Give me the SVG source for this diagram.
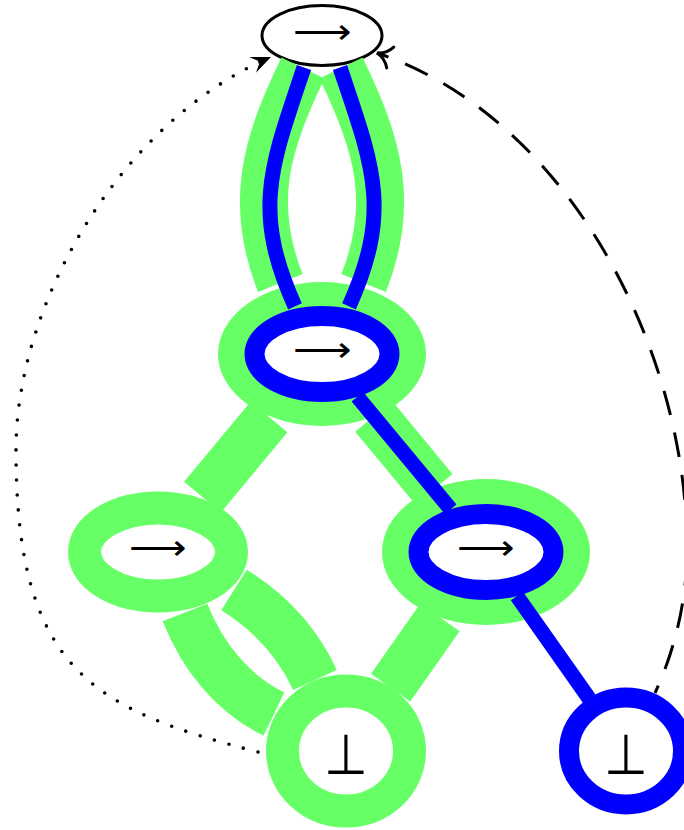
<svg xmlns="http://www.w3.org/2000/svg" width="684" height="830" viewBox="0 0 684 830">
<style>
.lbl{font-family:"DejaVu Sans",sans-serif;font-weight:200;font-size:36px;fill:#000;text-anchor:middle}
.bot{font-family:"DejaVu Sans",sans-serif;font-weight:200;font-size:56px;fill:#000;text-anchor:middle}
.gfill{fill:#66ff66;stroke:none}
.gring{fill:#fff;stroke:#66ff66;stroke-width:33}
.bring{fill:#fff;stroke:#0000ff;stroke-width:20}
.gband{fill:none;stroke:#66ff66;stroke-width:48;stroke-linecap:butt}
.bband{fill:none;stroke:#0000ff;stroke-width:15;stroke-linecap:butt}
.dot{fill:none;stroke:#000;stroke-width:3.6;stroke-linecap:round;stroke-dasharray:0 15}
.dash{fill:none;stroke:#000;stroke-width:3;stroke-dasharray:25 18;stroke-dashoffset:17}
</style>
<defs>
<marker id="stealth" viewBox="-22 -10 24 20" refX="0" refY="0" markerWidth="24" markerHeight="20" markerUnits="userSpaceOnUse" orient="auto">
<path d="M0,0 L-20,-8.5 L-12,0 L-20,8.5 Z" fill="#000" stroke="none"/>
</marker>
<marker id="open" viewBox="-17 -13 20 26" refX="0" refY="0" markerWidth="20" markerHeight="26" markerUnits="userSpaceOnUse" orient="auto">
<path d="M-14,-11 C-10,-4 -4,-1 0,0 C-4,1 -10,4 -14,11" fill="none" stroke="#000" stroke-width="3" stroke-linecap="round"/>
</marker>
</defs>
<g id="n_top">
<ellipse cx="322" cy="35.5" rx="60" ry="30" fill="#fff" stroke="#000" stroke-width="3"/>
<text class="lbl" x="322.5" y="43.5" textLength="59" lengthAdjust="spacingAndGlyphs">⟶</text>
</g>
<g id="n_mid">
<ellipse class="gfill" cx="322" cy="354" rx="104" ry="72"/>
<ellipse class="bring" cx="322" cy="354" rx="67.5" ry="38"/>
<text class="lbl" x="322.5" y="361.5" textLength="59" lengthAdjust="spacingAndGlyphs">⟶</text>
</g>
<g id="n_left">
<ellipse class="gring" cx="158" cy="552" rx="73.5" ry="44"/>
<text class="lbl" x="158.3" y="560" textLength="58" lengthAdjust="spacingAndGlyphs">⟶</text>
</g>
<g id="n_right">
<ellipse class="gfill" cx="486" cy="552" rx="104" ry="73"/>
<ellipse class="bring" cx="486" cy="552" rx="67.5" ry="38"/>
<text class="lbl" x="485.9" y="559.5" textLength="58" lengthAdjust="spacingAndGlyphs">⟶</text>
</g>
<g id="n_bl">
<ellipse class="gring" cx="346" cy="751" rx="63.5" ry="60"/>
<text class="bot" x="346" y="773.5" textLength="44" lengthAdjust="spacingAndGlyphs">⊥</text>
</g>
<g id="n_br">
<ellipse class="bring" cx="626" cy="751" rx="57" ry="53.5"/>
<text class="bot" x="626" y="773.5" textLength="44" lengthAdjust="spacingAndGlyphs">⊥</text>
</g>
<g id="connectors">
<path class="gband" d="M303,68 C265.6,144.5 248.9,204 280.4,283"/>
<path class="gband" d="M341,68 C378.4,144.5 395.1,204 363.6,283"/>
<path class="gband" d="M269,417 L202.5,497"/>
<path class="gband" d="M373.7,416.4 L434,489.2"/>
<path class="gband" d="M185,612.5 C202.1,655.8 232.1,693.8 274,714"/>
<path class="gband" d="M234,590 C268.9,611.8 297.8,642.6 315,680"/>
<path class="gband" d="M440,617.4 L390.6,687.6"/>
<path class="bband" d="M304,67.5 C270.4,167.3 252,210.8 295,306.3"/>
<path class="bband" d="M340,67.5 C373.6,167.3 392,210.8 349,306.3"/>
<path class="bband" d="M357.4,396.7 L450.7,509.3"/>
<path class="bband" d="M516.9,596 L589.2,698.6"/>
<path class="dot" d="M258,752 C93,709.5 16,670 16,450 C16,300 123.8,119.4 271,57" marker-end="url(#stealth)"/>
<path class="dash" d="M655,693 C676,647.5 687,598 687,548 C687,348 567,117 377,53" marker-end="url(#open)"/>
</g>
</svg>
